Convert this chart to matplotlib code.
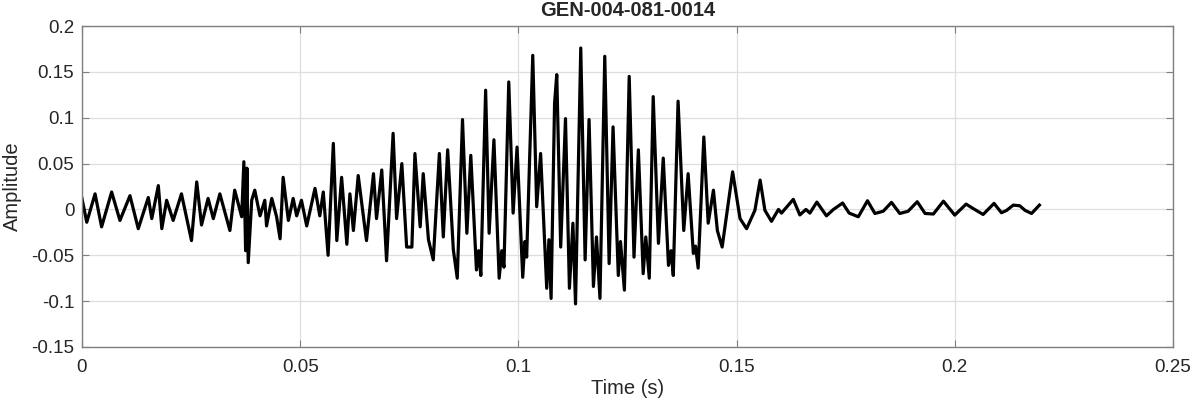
import matplotlib
matplotlib.use("Agg")
import matplotlib.pyplot as plt
from matplotlib.ticker import FuncFormatter

plt.rcParams['font.family'] = ['Liberation Sans', 'DejaVu Sans']
plt.rcParams['axes.unicode_minus'] = False

# waveform extrema (time in s, amplitude)
time_s = [
    0.0000, 0.0011, 0.0030, 0.0045, 0.0068, 0.0087, 0.0110, 0.0129, 0.0152, 0.0160,
    0.0175, 0.0183, 0.0194, 0.0209, 0.0228, 0.0251, 0.0263, 0.0274, 0.0289, 0.0301,
    0.0316, 0.0339, 0.0350, 0.0366, 0.0371, 0.0375, 0.0378, 0.0381, 0.0389, 0.0396,
    0.0408, 0.0419, 0.0423, 0.0435, 0.0446, 0.0454, 0.0461, 0.0473, 0.0484, 0.0492,
    0.0503, 0.0515, 0.0534, 0.0545, 0.0553, 0.0564, 0.0576, 0.0584, 0.0595, 0.0607,
    0.0614, 0.0622, 0.0633, 0.0652, 0.0668, 0.0675, 0.0687, 0.0698, 0.0713, 0.0721,
    0.0733, 0.0744, 0.0756, 0.0763, 0.0775, 0.0782, 0.0794, 0.0805, 0.0819, 0.0828,
    0.0838, 0.0851, 0.0860, 0.0872, 0.0882, 0.0891, 0.0904, 0.0909, 0.0914, 0.0925,
    0.0933, 0.0944, 0.0956, 0.0962, 0.0967, 0.0978, 0.0988, 0.0997, 0.1010, 0.1015,
    0.1019, 0.1033, 0.1042, 0.1051, 0.1065, 0.1070, 0.1075, 0.1083, 0.1088, 0.1097,
    0.1108, 0.1117, 0.1125, 0.1131, 0.1143, 0.1153, 0.1162, 0.1172, 0.1179, 0.1187,
    0.1198, 0.1208, 0.1217, 0.1229, 0.1234, 0.1243, 0.1254, 0.1265, 0.1275, 0.1286,
    0.1292, 0.1300, 0.1309, 0.1321, 0.1332, 0.1344, 0.1350, 0.1355, 0.1366, 0.1379,
    0.1389, 0.1401, 0.1406, 0.1412, 0.1425, 0.1435, 0.1447, 0.1456, 0.1467, 0.1491,
    0.1508, 0.1523, 0.1542, 0.1554, 0.1565, 0.1580, 0.1596, 0.1603, 0.1630, 0.1645,
    0.1659, 0.1668, 0.1684, 0.1706, 0.1722, 0.1743, 0.1758, 0.1779, 0.1800, 0.1817,
    0.1836, 0.1855, 0.1874, 0.1893, 0.1914, 0.1932, 0.1951, 0.1974, 0.2000, 0.2026,
    0.2042, 0.2065, 0.2090, 0.2107, 0.2119, 0.2134, 0.2149, 0.2161, 0.2176, 0.2194,
]
amplitude = [
    0.012, -0.014, 0.017, -0.019, 0.019, -0.012, 0.015, -0.021, 0.013, -0.010,
    0.026, -0.021, 0.010, -0.012, 0.017, -0.034, 0.030, -0.017, 0.012, -0.010,
    0.017, -0.023, 0.021, -0.008, 0.052, -0.045, 0.045, -0.058, 0.010, 0.021,
    -0.007, 0.010, -0.018, 0.012, -0.008, -0.032, 0.035, -0.012, 0.012, -0.007,
    0.010, -0.018, 0.023, -0.007, 0.019, -0.050, 0.072, -0.034, 0.035, -0.038,
    0.017, -0.023, 0.037, -0.034, 0.039, -0.010, 0.043, -0.056, 0.083, -0.010,
    0.050, -0.041, -0.041, 0.061, -0.019, 0.039, -0.033, -0.055, 0.061, -0.030,
    0.065, -0.044, -0.075, 0.098, -0.026, 0.059, -0.066, -0.045, -0.072, 0.130,
    -0.026, 0.076, -0.075, -0.045, -0.063, 0.139, -0.004, 0.068, -0.074, -0.035,
    -0.052, 0.168, 0.003, 0.061, -0.086, -0.033, -0.097, 0.116, 0.147, -0.041,
    0.099, -0.086, -0.015, -0.103, 0.176, -0.055, 0.098, -0.084, -0.030, -0.097,
    0.167, -0.059, 0.090, -0.072, -0.035, -0.088, 0.145, -0.052, 0.065, -0.070,
    -0.030, -0.075, 0.123, -0.037, 0.056, -0.061, -0.045, -0.072, 0.118, -0.023,
    0.039, -0.048, -0.040, -0.064, 0.079, -0.015, 0.021, -0.023, -0.041, 0.041,
    -0.010, -0.021, -0.001, 0.032, -0.001, -0.013, 0.000, -0.004, 0.011, -0.006,
    0.000, -0.004, 0.008, -0.007, 0.000, 0.007, -0.004, -0.008, 0.0095, -0.0044,
    -0.002, 0.0077, -0.0044, -0.002, 0.0084, -0.0044, -0.005, 0.009, -0.0062, 0.0058,
    0.001, -0.0055, 0.0066, -0.0036, -0.001, 0.0047, 0.004, -0.001, -0.0044, 0.0047,
]
x_ticks = [0, 0.05, 0.1, 0.15, 0.2, 0.25]
y_ticks = [-0.15, -0.1, -0.05, 0, 0.05, 0.1, 0.15, 0.2]

fig = plt.figure(figsize=(11.93, 4.04), dpi=100)
ax = fig.add_axes([0.0687, 0.1411, 0.9145, 0.7945])

ax.plot(time_s, amplitude, color='black', linewidth=2.3)

ax.set_xlim(0, 0.25)
ax.set_ylim(-0.15, 0.2)
ax.set_xticks(x_ticks)
ax.set_yticks(y_ticks)
fmt = FuncFormatter(lambda v, p: '%g' % round(v, 4))
ax.xaxis.set_major_formatter(fmt)
ax.yaxis.set_major_formatter(fmt)

ax.grid(True, color='#dedede', linewidth=0.9)
ax.set_axisbelow(True)
for s in ax.spines.values():
    s.set_color('#808080')
    s.set_linewidth(1.0)
ax.tick_params(direction='in', length=5, color='#808080', labelsize=13.5,
               labelcolor='#262626', top=True, right=True)
ax.tick_params(axis='x', pad=8.5)
ax.tick_params(axis='y', pad=5.5)

ax.set_xlabel('Time (s)', fontsize=14.5, color='#262626', labelpad=2)
ax.set_ylabel('Amplitude', fontsize=14.5, color='#262626', labelpad=7)
ax.set_title('GEN-004-081-0014', fontsize=14.5, fontweight='bold', color='#262626', pad=7)

fig.savefig('out.png', dpi=100, facecolor='white')
